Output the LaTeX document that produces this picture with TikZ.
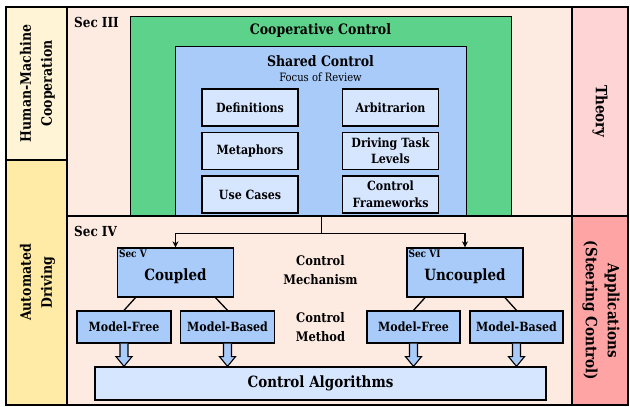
\documentclass[tikz,border=0pt]{standalone}
\usepackage{fontspec}
\setmainfont{DejaVu Serif}[FakeStretch=0.87]
\usetikzlibrary{positioning,arrows.meta}

\definecolor{peach}{HTML}{FDEAE1}
\definecolor{coopgreen}{HTML}{5DD28B}
\definecolor{sharedblue}{HTML}{A9CBFA}
\definecolor{paleblue}{HTML}{D6E6FF}
\definecolor{cream}{HTML}{FFF5D6}
\definecolor{sand}{HTML}{FFEBA6}
\definecolor{rosy}{HTML}{FFD4D4}
\definecolor{salmon}{HTML}{FFA4A4}

\tikzset{
  region/.style={draw, line width=1.6pt},
  sidelabel/.style={font=\fontsize{14.4}{21}\selectfont\bfseries, align=center, inner sep=0pt},
  frame/.style={draw, line width=1.3pt, anchor=north west, inner sep=0pt},
  topic/.style={draw, line width=1.3pt, fill=paleblue, align=center, inner sep=1pt,
                minimum width=96pt, minimum height=37pt, font=\fontsize{12.7}{16.5}\selectfont\bfseries},
  mechbox/.style={draw, line width=1.3pt, fill=sharedblue, minimum width=116pt, minimum height=49pt,
                  inner sep=0pt, text height=20pt, text depth=4pt, font=\fontsize{15.5}{18}\selectfont\bfseries},
  methodbox/.style={draw, line width=1.3pt, fill=sharedblue, minimum width=94pt, minimum height=32pt,
                    inner sep=0pt, font=\fontsize{12.7}{15}\selectfont\bfseries},
  seclabel/.style={font=\fontsize{13.8}{16}\selectfont\bfseries, inner sep=0pt},
  subsec/.style={font=\fontsize{10.3}{12}\selectfont\bfseries, inner sep=2pt, text height=, text depth=},
  conn/.style={line width=1.3pt},
  fatarrow/.style={draw, line width=1.1pt, fill=sharedblue, line join=miter}
}

\begin{document}
\begin{tikzpicture}[x=1pt,y=-1pt]
  \useasboundingbox (0,0) rectangle (630,407);

  % side columns and the theory part
  \draw[region, fill=cream] (6,7) rectangle (67,160);
  \draw[region, fill=sand] (6,160) rectangle (67,405);
  \draw[region, fill=peach] (67,7) rectangle (572,216);
  \draw[region, fill=rosy] (572,7) rectangle (628,216);
  \draw[region, fill=salmon] (572,216) rectangle (628,405);

  \node[sidelabel, rotate=90] (hmc) at (37.5,83.5) {Human-Machine\\Cooperation};
  \node[sidelabel, rotate=90] (auto) at (37.5,282.5) {Automated\\Driving};
  \node[sidelabel, font=\fontsize{15.5}{22}\selectfont\bfseries, rotate=-90] (theory) at (600,111.5) {Theory};
  \node[sidelabel, font=\fontsize{15.5}{22}\selectfont\bfseries, rotate=-90] (appl) at (601,310.5)
    {Applications\\(Steering Control)};

  \node[seclabel, anchor=west] (secthree) at (74,22) {Sec III};

  % cooperative and shared control
  \node[frame, fill=coopgreen, minimum width=381pt, minimum height=200pt] (coop) at (130,16) {};
  \node[font=\fontsize{14.4}{17}\selectfont\bfseries] (cooptitle) at (320.5,31) {Cooperative Control};
  \node[frame, fill=sharedblue, minimum width=291pt, minimum height=170pt] (shared) at (175,46) {};
  \node[font=\fontsize{14.4}{17}\selectfont\bfseries] (sharedtitle) at (320.5,61) {Shared Control};
  \node[font=\fontsize{11.5}{14}\selectfont] (focus) at (320.5,77) {Focus of Review};

  \node[topic] (defs) at (250,107.5) {Definitions};
  \node[topic] (meta) at (250,151) {Metaphors};
  \node[topic] (cases) at (250,194.5) {Use Cases};
  \node[topic] (arbit) at (390.5,107.5) {Arbitrarion};
  \node[topic] (levels) at (390.5,151) {Driving Task\\Levels};
  \node[topic] (frames) at (390.5,194.5) {Control\\Frameworks};

  % applications part
  \draw[region, fill=peach] (67,216) rectangle (572,405);
  \node[seclabel, anchor=west] (secfour) at (74,231) {Sec IV};

  \node[mechbox, label={[subsec, anchor=north west]north west:Sec V}] (coupled) at (175.5,272.5) {Coupled};
  \node[mechbox, label={[subsec, anchor=north west]north west:Sec VI}] (uncoupled) at (465,272.5) {Uncoupled};
  \node[font=\fontsize{13.2}{19}\selectfont\bfseries, align=center] (mech) at (320.5,270) {Control\\Mechanism};
  \node[font=\fontsize{13.2}{19}\selectfont\bfseries, align=center] (method) at (320.5,327) {Control\\Method};

  \node[methodbox] (mfa) at (124,327) {Model-Free};
  \node[methodbox] (mba) at (227.5,327) {Model-Based};
  \node[methodbox, minimum width=93pt] (mfb) at (413.5,327) {Model-Free};
  \node[methodbox, minimum width=93pt] (mbb) at (516.5,327) {Model-Based};

  \node[draw, line width=1.3pt, fill=paleblue, minimum width=451pt, minimum height=33pt,
        font=\fontsize{15.5}{18}\selectfont\bfseries] (algo) at (320.5,383.5) {Control Algorithms};

  % connectors
  \draw[conn] (shared.south) -- ++(0,16) coordinate (split);
  \draw[conn, -{Stealth[length=6pt,width=6pt]}] (split) -| (coupled.north);
  \draw[conn, -{Stealth[length=6pt,width=6pt]}] (split) -| (uncoupled.north);

  \draw[conn] ([xshift=-40pt]coupled.south) -- (mfa.north);
  \draw[conn] ([xshift=40pt]coupled.south) -- (mba.north);
  \draw[conn] ([xshift=-40pt]uncoupled.south) -- (mfb.north);
  \draw[conn] ([xshift=40pt]uncoupled.south) -- (mbb.north);

  \foreach \n in {mfa,mba,mfb,mbb}
    \draw[fatarrow] ([xshift=-4pt]\n.south) -- ([shift={(-4pt,-13pt)}]\n.south)
      -- ([shift={(-8pt,-13pt)}]\n.south) -- (\n.south |- algo.north)
      -- ([shift={(8pt,-13pt)}]\n.south) -- ([shift={(4pt,-13pt)}]\n.south)
      -- ([xshift=4pt]\n.south);
\end{tikzpicture}
\end{document}
